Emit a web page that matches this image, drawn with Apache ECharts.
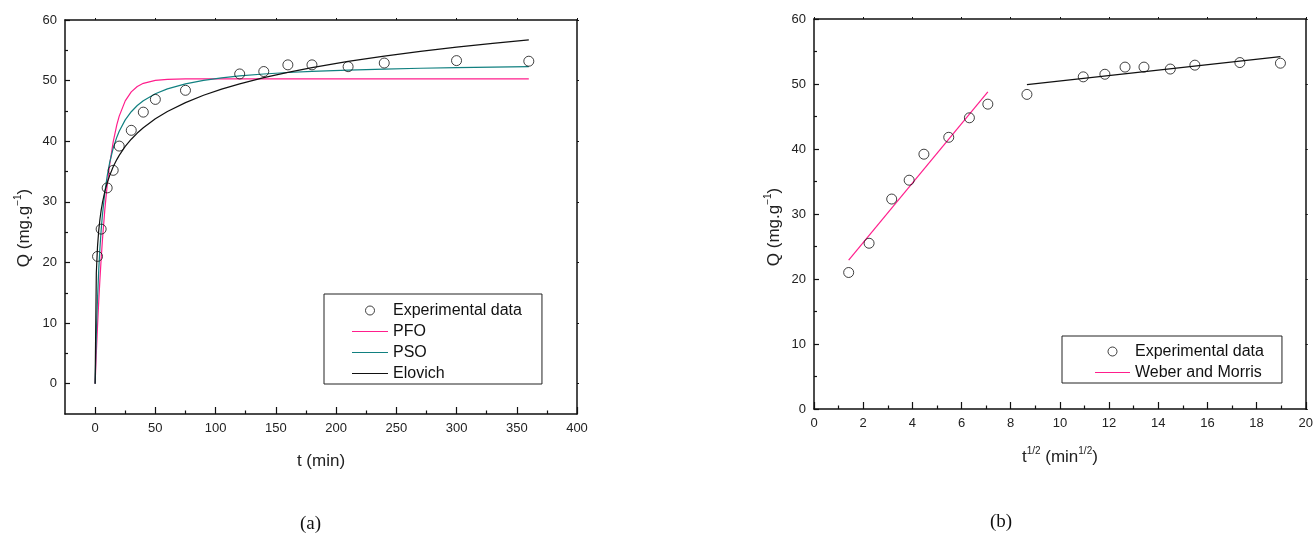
<!DOCTYPE html>
<html><head><meta charset="utf-8">
<script src="https://cdn.jsdelivr.net/npm/echarts@6/dist/echarts.min.js"></script>
<style>html,body{margin:0;padding:0;background:#fff}#c{width:1316px;height:540px}</style>
</head><body><div id="c"></div>
<script>
// ---- data ----
const timeMin = [2, 5, 10, 15, 20, 30, 40, 50, 75, 120, 140, 160, 180, 210, 240, 300, 360];
const qExperimental = [21.0, 25.5, 32.3, 35.2, 39.2, 41.8, 44.8, 46.9, 48.4, 51.1, 51.5, 52.6, 52.6, 52.3, 52.9, 53.3, 53.2];
const sqrtTime = [1.41, 2.24, 3.16, 3.87, 4.47, 5.48, 6.32, 7.07, 8.66, 10.95, 11.83, 12.65, 13.42, 14.49, 15.49, 17.32, 18.97];

const modelTime = [0, 1, 2, 3, 4, 5, 6, 8, 10, 12, 15, 18, 20, 25, 30, 35, 40, 50, 60, 75, 90, 105, 120, 140, 160, 180, 210, 240, 270, 300, 330, 360];
const qPFO = [0, 5.01, 9.53, 13.59, 17.25, 20.54, 23.51, 28.59, 32.70, 36.03, 39.89, 42.70, 44.14, 46.66, 48.14, 49.03, 49.55, 50.04, 50.21, 50.28, 50.30, 50.30, 50.30, 50.30, 50.30, 50.30, 50.30, 50.30, 50.30, 50.30, 50.30, 50.30];
const qPSO = [0, 8.17, 14.16, 18.74, 22.36, 25.29, 27.70, 31.47, 34.26, 36.41, 38.85, 40.67, 41.65, 43.52, 44.87, 45.89, 46.68, 47.84, 48.64, 49.47, 50.04, 50.46, 50.77, 51.09, 51.34, 51.53, 51.74, 51.91, 52.04, 52.14, 52.23, 52.30];
const qElovich = [0, 18.30, 22.66, 25.27, 27.13, 28.58, 29.77, 31.65, 33.11, 34.31, 35.78, 36.97, 37.67, 39.14, 40.33, 41.35, 42.23, 43.70, 44.90, 46.37, 47.58, 48.60, 49.47, 50.49, 51.37, 52.15, 53.16, 54.05, 54.83, 55.52, 56.15, 56.72];

const wmX1 = [1.41, 7.07];
const wmQ1 = [22.9, 48.8];
const wmX2 = [8.66, 18.97];
const wmQ2 = [49.9, 54.2];

const leftXTicks = [0, 50, 100, 150, 200, 250, 300, 350, 400];
const leftXMinor = [25, 75, 125, 175, 225, 275, 325, 375];
const leftYTicks = [0, 10, 20, 30, 40, 50, 60];
const leftYMinor = [5, 15, 25, 35, 45, 55];
const rightXTicks = [0, 2, 4, 6, 8, 10, 12, 14, 16, 18, 20];
const rightXMinor = [1, 3, 5, 7, 9, 11, 13, 15, 17, 19];
const rightYTicks = [0, 10, 20, 30, 40, 50, 60];
const rightYMinor = [5, 15, 25, 35, 45, 55];

// ---- styling ----
const FONT = 'Liberation Sans, Arial, sans-serif';
const AX = '#111';
const PINK = '#FF1E8C';
const TEAL = '#118080';
const LINE_ICON = 'path://M0,0 L40,0 L40,1.3 L0,1.3 Z';

function zip(xs, ys) { return xs.map((x, i) => [x, ys[i]]); }

function mainAxis(pos, min, max, ticks, tickLen, name, nameGap, extra) {
  return {
    type: 'value', gridIndex: extra.grid, position: pos, min: min, max: max,
    axisLine: { show: true, onZero: false, lineStyle: { color: AX, width: 1.5 } },
    axisTick: { show: true, inside: true, length: tickLen, customValues: ticks, lineStyle: { color: AX, width: 1.2 } },
    axisLabel: { show: true, customValues: ticks, margin: 8, fontSize: 13, color: '#222', fontFamily: FONT },
    splitLine: { show: false },
    name: name, nameLocation: 'middle', nameGap: nameGap,
    nameTextStyle: extra.nameStyle
  };
}
function minorAxis(pos, min, max, ticks, tickLen, grid) {
  return {
    type: 'value', gridIndex: grid, position: pos, min: min, max: max,
    axisLine: { show: false, onZero: false },
    axisTick: { show: true, inside: true, length: tickLen, customValues: ticks, lineStyle: { color: AX, width: 1.2 } },
    axisLabel: { show: false }, splitLine: { show: false }
  };
}
function frameAxis(pos, min, max, ticks, grid) {
  return {
    type: 'value', gridIndex: grid, position: pos, min: min, max: max,
    axisLine: { show: true, onZero: false, lineStyle: { color: AX, width: 1.5 } },
    axisTick: { show: true, inside: false, length: 2, customValues: ticks, lineStyle: { color: AX, width: 1 } },
    axisLabel: { show: false }, splitLine: { show: false }
  };
}

function titleStyle(padding) {
  return {
    fontSize: 17, color: '#222', fontFamily: FONT, padding: padding,
    rich: {
      t: { fontSize: 17, color: '#222', fontFamily: FONT, lineHeight: 20, verticalAlign: 'bottom' },
      s: { fontSize: 10, color: '#222', fontFamily: FONT, lineHeight: 11, verticalAlign: 'top' }
    }
  };
}

const scatterStyle = { color: 'rgba(0,0,0,0)', borderColor: '#111', borderWidth: 1 };
const circleLegend = { name: 'Experimental data', icon: 'circle', itemStyle: { color: '#fff', borderColor: '#111', borderWidth: 1 } };

const option = {
  animation: false,
  backgroundColor: '#fff',
  textStyle: { fontFamily: FONT },
  grid: [
    { left: 65, top: 20, width: 512, height: 394 },
    { left: 814, top: 19, width: 494, height: 390 }
  ],
  xAxis: [
    mainAxis('bottom', -25, 400, leftXTicks, 7, '{t|t (min)}', 36, { grid: 0, nameStyle: titleStyle(0) }),
    minorAxis('bottom', -25, 400, leftXMinor, 3.5, 0),
    frameAxis('top', -25, 400, leftXTicks, 0),
    mainAxis('bottom', 0, 20, rightXTicks, 7, '{t|t}{s|1/2}{t| (min}{s|1/2}{t|)}', 37, { grid: 1, nameStyle: titleStyle(0) }),
    minorAxis('bottom', 0, 20, rightXMinor, 3.5, 1),
    frameAxis('top', 0, 20, rightXTicks, 1)
  ],
  yAxis: [
    mainAxis('left', -5, 60, leftYTicks, 5, '{t|Q (mg.g}{s|−1}{t|)}', 32, { grid: 0, nameStyle: titleStyle([0, 22, 0, 0]) }),
    minorAxis('left', -5, 60, leftYMinor, 3, 0),
    frameAxis('right', -5, 60, leftYTicks, 0),
    mainAxis('left', 0, 60, rightYTicks, 5, '{t|Q (mg.g}{s|−1}{t|)}', 31, { grid: 1, nameStyle: titleStyle([0, 26, 0, 0]) }),
    minorAxis('left', 0, 60, rightYMinor, 3, 1),
    frameAxis('right', 0, 60, rightYTicks, 1)
  ],
  legend: [
    {
      left: 324, top: 294, orient: 'vertical', selectedMode: false, symbolKeepAspect: true,
      padding: [6, 20, 0, 28], itemGap: 0, itemWidth: 36, itemHeight: 9,
      borderColor: '#222', borderWidth: 1, backgroundColor: '#fff',
      textStyle: { fontSize: 16, color: '#111', fontFamily: FONT, lineHeight: 21 },
      data: [
        circleLegend,
        { name: 'PFO', icon: LINE_ICON, itemStyle: { color: PINK } },
        { name: 'PSO', icon: LINE_ICON, itemStyle: { color: TEAL } },
        { name: 'Elovich', icon: LINE_ICON, itemStyle: { color: '#111' } }
      ]
    },
    {
      left: 1062, top: 336, orient: 'vertical', selectedMode: false, symbolKeepAspect: true,
      padding: [5, 18, 0, 33], itemGap: 0, itemWidth: 35, itemHeight: 9,
      borderColor: '#222', borderWidth: 1, backgroundColor: '#fff',
      textStyle: { fontSize: 16, color: '#111', fontFamily: FONT, lineHeight: 21 },
      data: [
        circleLegend,
        { name: 'Weber and Morris', icon: LINE_ICON, itemStyle: { color: PINK } }
      ]
    }
  ],
  series: [
    { name: 'PFO', type: 'line', xAxisIndex: 0, yAxisIndex: 0, data: zip(modelTime, qPFO),
      symbol: 'none', showSymbol: false, lineStyle: { color: PINK, width: 1.2 }, itemStyle: { color: PINK }, z: 3 },
    { name: 'PSO', type: 'line', xAxisIndex: 0, yAxisIndex: 0, data: zip(modelTime, qPSO),
      symbol: 'none', showSymbol: false, lineStyle: { color: TEAL, width: 1.2 }, itemStyle: { color: TEAL }, z: 3 },
    { name: 'Elovich', type: 'line', xAxisIndex: 0, yAxisIndex: 0, data: zip(modelTime, qElovich),
      symbol: 'none', showSymbol: false, lineStyle: { color: '#111', width: 1.2 }, itemStyle: { color: '#111' }, z: 3 },
    { name: 'Experimental data', type: 'scatter', xAxisIndex: 0, yAxisIndex: 0, data: zip(timeMin, qExperimental),
      symbol: 'circle', symbolSize: 10, itemStyle: scatterStyle, z: 5 },

    { name: 'Weber and Morris', type: 'line', xAxisIndex: 3, yAxisIndex: 3, data: zip(wmX1, wmQ1),
      symbol: 'none', showSymbol: false, lineStyle: { color: PINK, width: 1.2 }, itemStyle: { color: PINK }, z: 3 },
    { name: 'Weber and Morris (stage 2)', type: 'line', xAxisIndex: 3, yAxisIndex: 3, data: zip(wmX2, wmQ2),
      symbol: 'none', showSymbol: false, lineStyle: { color: '#111', width: 1.2 }, itemStyle: { color: '#111' }, z: 3 },
    { name: 'Experimental data', type: 'scatter', xAxisIndex: 3, yAxisIndex: 3, data: zip(sqrtTime, qExperimental),
      symbol: 'circle', symbolSize: 10, itemStyle: scatterStyle, z: 5 }
  ],
  graphic: [
    { type: 'text', left: 300, top: 515, style: { text: '(a)', fontSize: 19, fontFamily: 'Liberation Serif, serif', fill: '#111' } },
    { type: 'text', left: 990, top: 513, style: { text: '(b)', fontSize: 19, fontFamily: 'Liberation Serif, serif', fill: '#111' } }
  ]
};

const chart = echarts.init(document.getElementById('c'), null, { renderer: 'canvas' });
chart.setOption(option);
</script>
</body></html>
